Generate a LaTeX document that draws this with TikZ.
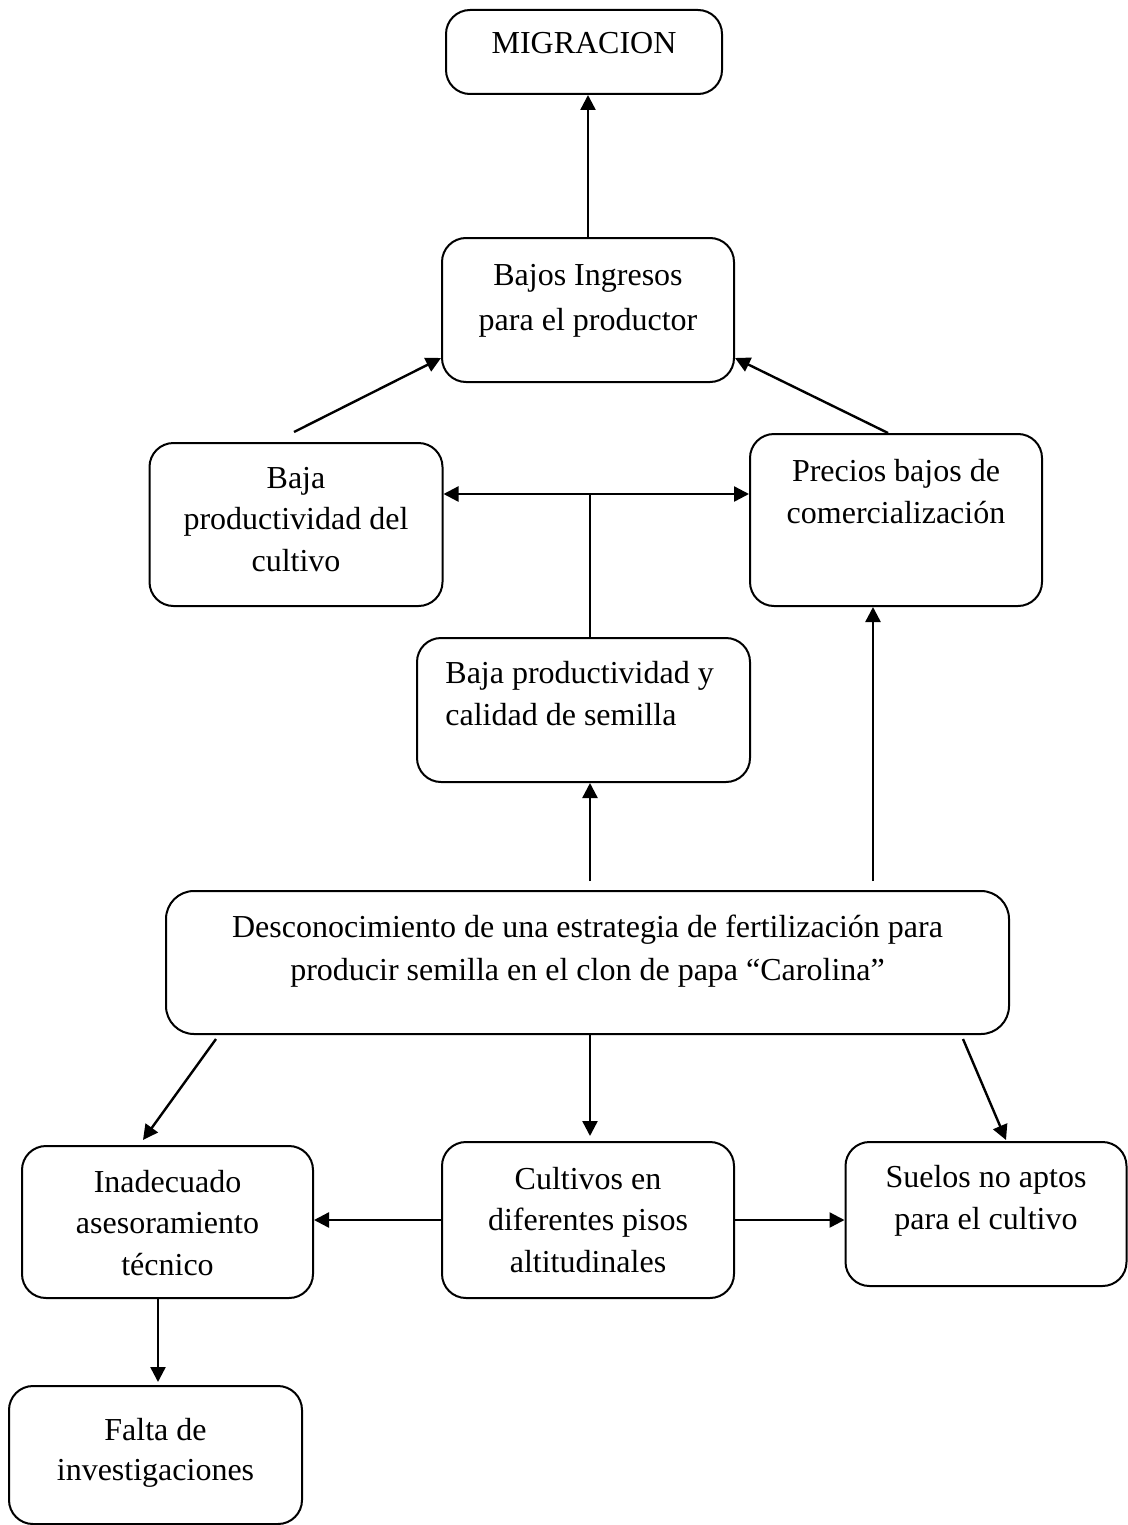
\documentclass[tikz,border=0pt]{standalone}
\usepackage{fontspec}
\setmainfont{Liberation Serif}
\usetikzlibrary{arrows.meta,calc}
\newcommand{\mystrut}{\rule{0pt}{15pt}}
\tikzset{
  box/.style={draw, line width=1pt, rounded corners=12pt, inner sep=0pt},
  txt/.style={align=center, inner sep=0pt, anchor=north, font=\fontsize{16}{20.75}\selectfont},
  tip/.tip={Triangle[length=7.5pt,width=7.5pt]},
  arr/.style={line width=1.2pt, -tip},
  darr/.style={line width=1.2pt, tip-tip},
  plain/.style={line width=0.8pt}
}
\begin{document}
\begin{tikzpicture}[x=0.5pt,y=-0.5pt]
\useasboundingbox (0,0) rectangle (1128,1525);
% boxes
\node[box, minimum width=138pt, minimum height=42pt] (mig) at (584,52) {};
\node[box, minimum width=146pt, minimum height=72pt] (bajos) at (588,310) {};
\node[box, minimum width=146.5pt, minimum height=81.5pt] (cult) at (296,524.5) {};
\node[box, minimum width=146pt, minimum height=86pt] (precios) at (896,520) {};
\node[box, minimum width=166.5pt, minimum height=72pt] (semilla) at (583.5,710) {};
\node[box, minimum width=421.5pt, minimum height=71.5pt, rounded corners=14pt] (desc) at (587.5,962.5) {};
\node[box, minimum width=145.5pt, minimum height=76pt] (inad) at (167.5,1222) {};
\node[box, minimum width=146pt, minimum height=78pt] (cultivos) at (588,1220) {};
\node[box, minimum width=140.5pt, minimum height=72pt] (suelos) at (986,1214) {};
\node[box, minimum width=146.5pt, minimum height=69pt] (falta) at (155.5,1455) {};
% texts
\node[txt] (tmig) at (584,23) {\mystrut MIGRACION};
\node[txt, font=\fontsize{16}{22.5}\selectfont] (tbajos) at (588,255) {\mystrut Bajos Ingresos\\para el productor};
\node[txt] (tcult) at (296,458) {\mystrut Baja\\productividad del\\cultivo};
\node[txt, font=\fontsize{16}{21}\selectfont] (tprecios) at (896,451) {\mystrut Precios bajos de\\comercialización};
\node[txt, font=\fontsize{16}{21}\selectfont, align=left, anchor=north west] (tsemilla) at (445,653) {\mystrut Baja productividad y\\calidad de semilla};
\node[txt, font=\fontsize{16}{21.5}\selectfont] (tdesc) at (587.5,907) {\mystrut Desconocimiento de una estrategia de fertilización para\\producir semilla en el clon de papa “Carolina”};
\node[txt] (tinad) at (167.5,1162) {\mystrut Inadecuado\\asesoramiento\\técnico};
\node[txt] (tcultivos) at (588,1159) {\mystrut Cultivos en\\diferentes pisos\\altitudinales};
\node[txt, font=\fontsize{16}{21}\selectfont] (tsuelos) at (986,1157) {\mystrut Suelos no aptos\\para el cultivo};
\node[txt, font=\fontsize{16}{20}\selectfont] (tfalta) at (155.5,1410) {\mystrut Falta de\\investigaciones};
% helper coordinates
\coordinate (j) at (590,494);
\coordinate (xr) at (873,0);
\coordinate (xf) at (158,0);
% connectors
\draw[arr] (bajos.north) -- (bajos.north |- mig.south);
\draw[arr] ($(cult.north)+(-2,-10)$) -- ($(bajos.west)+(0,48)$);
\draw[arr] ($(precios.north)+(-8,0)$) -- ($(bajos.east)+(0,48)$);
\draw[darr] (cult.east |- j) -- (precios.west |- j);
\draw[plain] (j) -- (j |- semilla.north);
\draw[arr] ($(j |- desc.north)+(0,-9)$) -- (j |- semilla.south);
\draw[arr] ($(xr |- desc.north)+(0,-9)$) -- (xr |- precios.south);
\draw[arr] ($(desc.south west)+(51,4)$) -- ($(inad.north)+(-24.5,-5)$);
\draw[arr] (j |- desc.south) -- ($(j |- cultivos.north)+(0,-5)$);
\draw[arr] ($(desc.south east)+(-47,4)$) -- ($(suelos.north)+(20,-1)$);
\draw[arr] (cultivos.west) -- (inad.east |- cultivos.west);
\draw[arr] (cultivos.east) -- (suelos.west |- cultivos.east);
\draw[arr] (xf |- inad.south) -- ($(xf |- falta.north)+(0,-3)$);
\end{tikzpicture}
\end{document}
